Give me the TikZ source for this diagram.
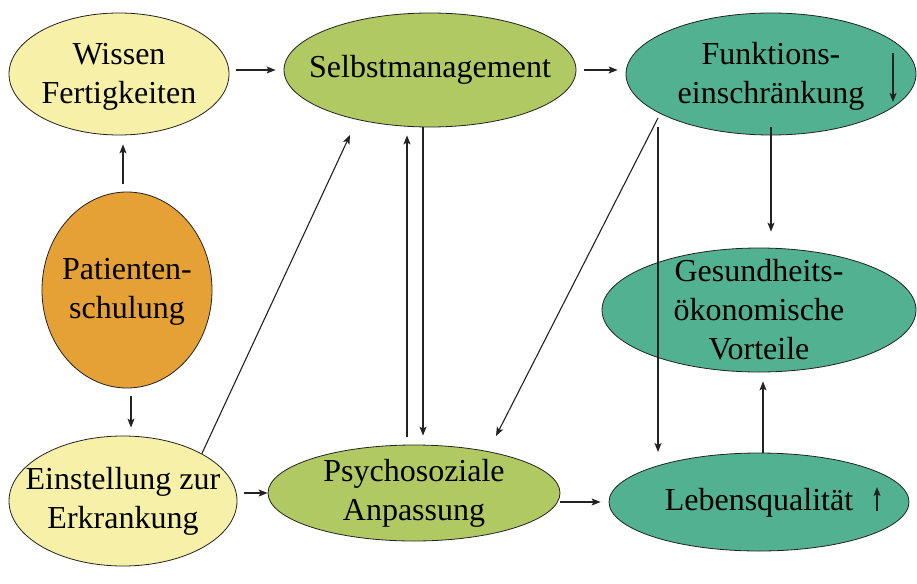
\documentclass[tikz,border=0pt]{standalone}
\usepackage{fontspec}
\setmainfont{Liberation Serif}
\usetikzlibrary{shapes.geometric,arrows.meta}
\definecolor{cyellow}{HTML}{F6F0A8}
\definecolor{cgreen}{HTML}{B1C963}
\definecolor{cteal}{HTML}{52B191}
\definecolor{corange}{HTML}{E5A136}
\definecolor{cline}{HTML}{222222}
\tikzset{
  ell/.style={ellipse, draw=cline, line width=0.8pt, inner sep=0pt},
  txt/.style={inner sep=0pt, align=center, font=\fontsize{32}{39}\selectfont, text=black},
  arr/.style={draw=cline, line width=1.1pt, -{Stealth[length=9pt,width=7pt,inset=2pt]}},
}
\begin{document}
\begin{tikzpicture}[x=1pt,y=-1pt]
\useasboundingbox (0,0) rectangle (917,583);
% shapes
\node[ell, fill=cyellow, minimum width=220pt, minimum height=122pt] (wissen) at (119,74) {};
\node[ell, fill=cgreen, minimum width=292pt, minimum height=114pt] (selbst) at (430,70) {};
\node[ell, fill=cteal, minimum width=290pt, minimum height=122pt] (funk) at (771,74) {};
\node[ell, fill=corange, minimum width=170pt, minimum height=196pt] (pat) at (127,290) {};
\node[ell, fill=cteal, minimum width=314pt, minimum height=124pt] (gesund) at (759,310) {};
\node[ell, fill=cyellow, minimum width=228pt, minimum height=130pt] (einst) at (123,501) {};
\node[ell, fill=cgreen, minimum width=292pt, minimum height=96pt] (psycho) at (414,493) {};
\node[ell, fill=cteal, minimum width=300pt, minimum height=98pt] (lebens) at (759,502) {};
% texts
\node[txt] (wissenT) at ([yshift=-3pt]wissen.center) {Wissen\\Fertigkeiten};
\node[txt] (selbstT) at (selbst.center) {Selbstmanagement};
\node[txt] (funkT) at ([yshift=-2pt]funk.center) {Funktions-\\einschränkung};
\node[txt] (patT) at ([yshift=-2pt]pat.center) {Patienten-\\schulung};
\node[txt] (gesundT) at (gesund.center) {Gesundheits-\\ökonomische\\Vorteile};
\node[txt] (einstT) at (einst.center) {Einstellung zur\\Erkrankung};
\node[txt] (psychoT) at (psycho.center) {Psychosoziale\\Anpassung};
\node[txt] (lebensT) at ([yshift=-1pt]lebens.center) {Lebensqualität};
% connectors
\draw[arr, shorten <=7pt, shorten >=8pt] (wissen.east |- selbst.west) -- (selbst.west);
\draw[arr, shorten <=8pt, shorten >=8pt] (selbst.east) -- (funk.west |- selbst.east);
\draw[arr, shorten <=8pt, shorten >=9pt] ([xshift=-4pt]pat.north) -- ([xshift=4pt]wissen.south);
\draw[arr, shorten <=8pt, shorten >=8pt] ([xshift=4pt]pat.south) -- ([xshift=8pt]einst.north);
\draw[arr] (einst.31) -- ([shift={(-80,65)}]selbst.center);
\draw[arr, shorten <=7pt] (einst.east |- psycho.west) -- (psycho.west);
\draw[arr, shorten <=8pt, shorten >=8pt] ([xshift=-7pt]psycho.north) -- ([xshift=-23pt]selbst.south);
\draw[arr, shorten >=9pt] ([xshift=-7pt]selbst.south) -- ([xshift=9pt]psycho.north);
\draw[arr, shorten >=8pt] (psycho.east |- lebens.west) -- (lebens.west);
\draw[arr] ([shift={(-113,44)}]funk.center) -- ([shift={(82,-57)}]psycho.center);
\draw[arr] ([shift={(-113,53)}]funk.center) -- ([shift={(-101,-50)}]lebens.center);
\draw[arr, shorten >=16pt] ([yshift=8pt]funk.south) -- (funk.south |- gesund.north);
\draw[arr, shorten >=9pt] ([xshift=4pt]lebens.north) -- ([xshift=4pt]gesund.south);
% small trend arrows
\draw[arr] ([shift={(122,-21)}]funk.center) -- ([shift={(122,28)}]funk.center);
\draw[arr] ([shift={(118,9)}]lebens.center) -- ([shift={(118,-15)}]lebens.center);
\end{tikzpicture}
\end{document}
